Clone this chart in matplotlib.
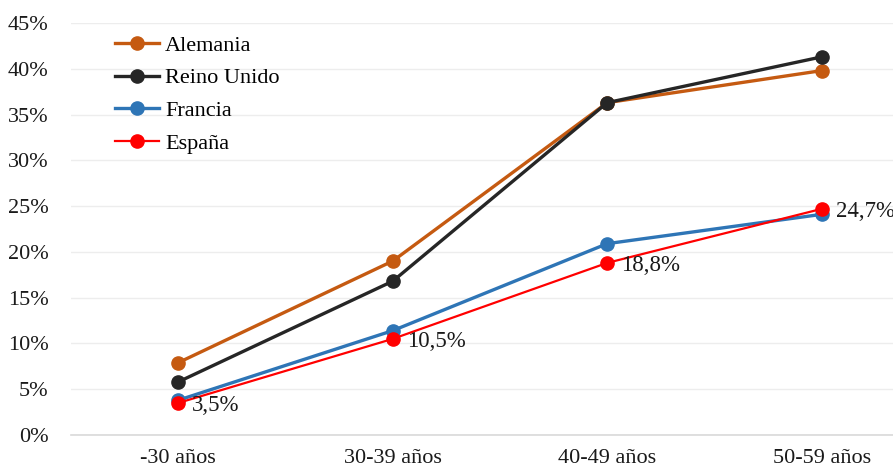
import numpy as np
import matplotlib.pyplot as plt

plt.rcParams['font.family'] = ['Liberation Serif', 'DejaVu Serif']

categorias = ['-30 años', '30-39 años', '40-49 años', '50-59 años']
alemania = [7.9, 19.0, 36.3, 39.8]
reino_unido = [5.8, 16.8, 36.3, 41.3]
francia = [3.8, 11.4, 20.9, 24.1]
espana = [3.5, 10.5, 18.8, 24.7]
etiquetas_espana = ['3,5%', '10,5%', '18,8%', '24,7%']

fig = plt.figure(figsize=(8.93, 4.69), dpi=100)
# the original is cropped on the right, so the axes run past the figure edge
ax = fig.add_axes([71/893, 34/469, 858/893, 412/469])

x = np.arange(len(categorias))
series = [
    ('Alemania', alemania, '#C55A11', 2.4),
    ('Reino Unido', reino_unido, '#262626', 2.4),
    ('Francia', francia, '#2E75B6', 2.4),
    ('España', espana, '#FF0000', 1.6),
]
for nombre, vals, color, lw in series:
    ax.plot(x, np.array(vals) / 100, color=color, lw=lw, marker='o',
            markersize=9.5, label=nombre)

for xi, v, txt in zip(x, espana, etiquetas_espana):
    ax.annotate(txt, (xi, v / 100), xytext=(10, -2), textcoords='offset points',
                ha='left', va='center', fontsize=16.5, color='#1a1a1a')

ax.set_xlim(-0.5, 3.5)
ax.set_ylim(0, 0.45)
ticks = np.arange(0, 0.46, 0.05)
ax.set_yticks(ticks)
ax.set_yticklabels([f'{int(round(t*100))}%' for t in ticks])
ax.set_xticks(x)
ax.set_xticklabels(categorias)
ax.tick_params(axis='both', length=0, labelsize=16, colors='#1a1a1a')
ax.tick_params(axis='y', pad=16)
ax.tick_params(axis='x', pad=10)

ax.grid(axis='y', color='#EDEDED', lw=1)
ax.set_axisbelow(True)
for s in ['top', 'right', 'left']:
    ax.spines[s].set_visible(False)
ax.spines['bottom'].set_color('#D9D9D9')
ax.spines['bottom'].set_linewidth(1.2)

leg = ax.legend(loc='upper left', bbox_to_anchor=(115/893, 1 - 35/469),
                bbox_transform=fig.transFigure, frameon=False, fontsize=16,
                handlelength=2.0, handletextpad=0.25, labelspacing=0.55,
                borderpad=0, borderaxespad=0)

fig.savefig('out.png', dpi=100)
